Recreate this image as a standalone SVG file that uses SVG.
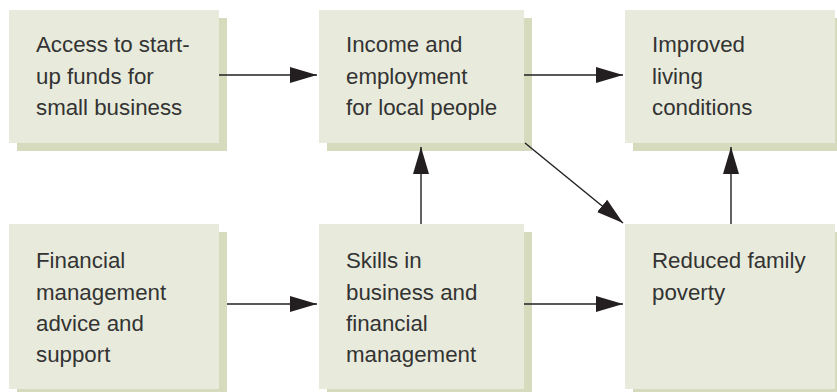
<svg xmlns="http://www.w3.org/2000/svg" width="837" height="392" viewBox="0 0 837 392">
<style>
.box{fill:#e8ebdc}
.sh{fill:#d6dbbd}
text{font-family:"Liberation Sans",Arial,sans-serif;font-size:22.3px;fill:#333333}
.c{stroke:#231f20;stroke-width:1.4;fill:none;marker-end:url(#ah)}
</style>
<defs>
<marker id="ah" markerUnits="userSpaceOnUse" markerWidth="28" markerHeight="18" refX="27" refY="8" orient="auto" viewBox="0 0 28 16">
<path d="M0,0 L27,8 L0,16 Z" fill="#231f20"/>
</marker>
</defs>
<g id="n1">
<rect class="sh" x="17" y="18" width="210" height="133"/>
<rect class="box" x="9" y="10" width="210" height="133"/>
<text x="36" y="52">Access to start-</text>
<text x="36" y="83.5">up funds for</text>
<text x="36" y="115">small business</text>
</g>
<g id="n2">
<rect class="sh" x="327" y="18" width="205" height="133"/>
<rect class="box" x="319" y="10" width="205" height="133"/>
<text x="346" y="52">Income and</text>
<text x="346" y="83.5">employment</text>
<text x="346" y="115">for local people</text>
</g>
<g id="n3">
<rect class="sh" x="633" y="18" width="210" height="133"/>
<rect class="box" x="625" y="10" width="210" height="133"/>
<text x="652" y="52">Improved</text>
<text x="652" y="83.5">living</text>
<text x="652" y="115">conditions</text>
</g>
<g id="n4">
<rect class="sh" x="17" y="232" width="210" height="165"/>
<rect class="box" x="9" y="224" width="210" height="165"/>
<text x="36" y="268">Financial</text>
<text x="36" y="299.5">management</text>
<text x="36" y="331">advice and</text>
<text x="36" y="362">support</text>
</g>
<g id="n5">
<rect class="sh" x="327" y="232" width="205" height="165"/>
<rect class="box" x="319" y="224" width="205" height="165"/>
<text x="346" y="268">Skills in</text>
<text x="346" y="299.5">business and</text>
<text x="346" y="331">financial</text>
<text x="346" y="362">management</text>
</g>
<g id="n6">
<rect class="sh" x="633" y="232" width="210" height="165"/>
<rect class="box" x="625" y="224" width="210" height="165"/>
<text x="652" y="268">Reduced family</text>
<text x="652" y="299.5">poverty</text>
</g>
<g id="connectors">
<line class="c" x1="219" y1="75" x2="317" y2="75"/>
<line class="c" x1="524" y1="75" x2="623" y2="75"/>
<line class="c" x1="421" y1="224" x2="421" y2="147"/>
<line class="c" x1="731" y1="224" x2="731" y2="147"/>
<line class="c" x1="525" y1="143" x2="623" y2="223"/>
<line class="c" x1="227" y1="304" x2="317" y2="304"/>
<line class="c" x1="524" y1="304" x2="623" y2="304"/>
</g>
</svg>
